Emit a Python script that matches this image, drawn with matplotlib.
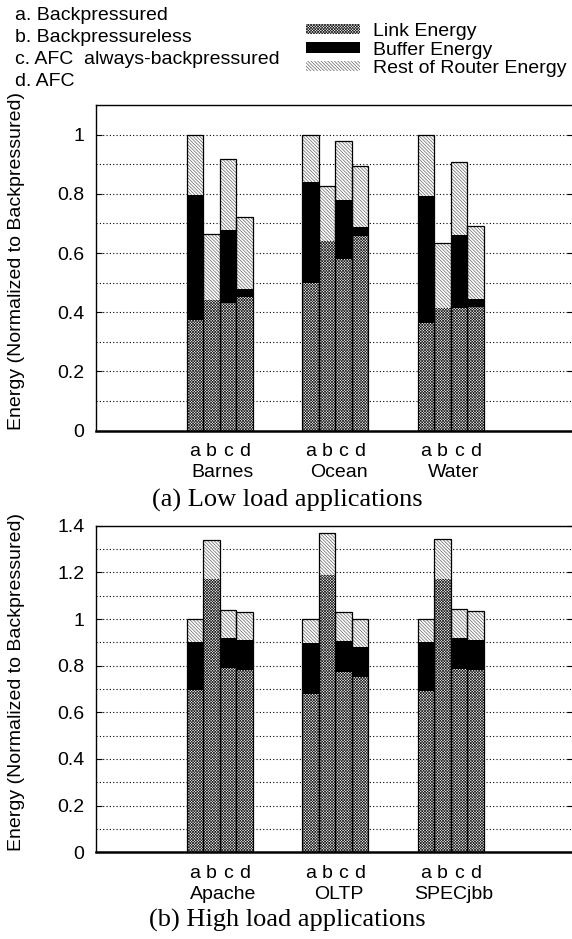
import matplotlib.pyplot as plt
from matplotlib.patches import Patch

plt.rcParams['font.family'] = ['Liberation Sans', 'DejaVu Sans']
plt.rcParams['hatch.linewidth'] = 0.5

# configurations a..d (same for every application)
configs = ['a', 'b', 'c', 'd']
config_names = ['a. Backpressured', 'b. Backpressureless',
                'c. AFC  always-backpressured', 'd. AFC']

# low load applications: link, buffer, total per config
low_apps = ['Barnes', 'Ocean', 'Water']
low_link = [[0.373, 0.440, 0.430, 0.452],
            [0.500, 0.641, 0.580, 0.657],
            [0.364, 0.413, 0.413, 0.418]]
low_buffer_top = [[0.796, 0.440, 0.677, 0.477],
                  [0.839, 0.641, 0.780, 0.688],
                  [0.794, 0.413, 0.662, 0.445]]
low_total = [[1.0, 0.663, 0.919, 0.723],
             [1.0, 0.828, 0.980, 0.894],
             [1.0, 0.635, 0.906, 0.690]]

# high load applications
high_apps = ['Apache', 'OLTP', 'SPECjbb']
high_link = [[0.694, 1.170, 0.789, 0.781],
             [0.679, 1.190, 0.773, 0.753],
             [0.691, 1.171, 0.786, 0.781]]
high_buffer_top = [[0.901, 1.170, 0.917, 0.910],
                   [0.897, 1.190, 0.907, 0.879],
                   [0.900, 1.171, 0.917, 0.911]]
high_total = [[1.0, 1.339, 1.039, 1.029],
              [1.0, 1.368, 1.031, 1.0],
              [1.0, 1.341, 1.043, 1.034]]

link_hatch = 'x' * 12
rest_hatch = '\\' * 10
link_col = '#222222'
rest_col = '#666666'


def draw_panel(ax, apps, link, buf_top, total, ymax, yticks):
    for g, app in enumerate(apps):
        for j in range(len(configs)):
            x = 6 + 7 * g + j
            l = link[g][j]
            b = buf_top[g][j] - l
            r = total[g][j] - buf_top[g][j]
            ax.bar(x, l, width=1, color='white', edgecolor=link_col,
                   hatch=link_hatch, linewidth=0, zorder=2)
            ax.bar(x, b, width=1, bottom=l, color='black', linewidth=0, zorder=2)
            ax.bar(x, r, width=1, bottom=l + b, color='white', edgecolor=rest_col,
                   hatch=rest_hatch, linewidth=0, zorder=2)
            ax.bar(x, total[g][j], width=1, fill=False, edgecolor='black',
                   linewidth=0.9, zorder=3)
        ax.annotate(app, xy=(6 + 7 * g + 1.7, 0), xycoords=ax.get_xaxis_transform(),
                    xytext=(0, -42), textcoords='offset pixels',
                    ha='center', va='center', fontsize=14, annotation_clip=False)
    xs = [6 + 7 * g + j for g in range(len(apps)) for j in range(len(configs))]
    ax.set_xticks(xs)
    ax.set_xticklabels(configs * len(apps), fontsize=14)
    ax.tick_params(axis='x', length=0, pad=9)
    ax.set_xlim(0, 28.9)
    ax.set_ylim(0, ymax)
    ax.set_yticks(yticks)
    ax.set_yticklabels(['%g' % v for v in yticks], fontsize=14)
    ax.set_yticks([k / 10 for k in range(int(round(ymax * 10)) + 1)], minor=True)
    ax.tick_params(axis='y', which='major', direction='in', length=4, pad=8,
                   right=True)
    ax.tick_params(axis='y', which='minor', length=0)
    ax.grid(axis='y', which='both', color='black', linestyle=(0, (1, 2)),
            linewidth=0.8, zorder=0)
    ax.set_axisbelow(True)
    for s in ax.spines.values():
        s.set_linewidth(1.0)
    ax.spines['bottom'].set_linewidth(1.8)
    ax.set_ylabel('Energy (Normalized to Backpressured)', fontsize=14)
    ax.yaxis.set_label_coords(-0.148, 0.52)


fig = plt.figure(figsize=(5.72, 9.39), dpi=100)
W, H = 572, 939
ax1 = fig.add_axes([95.7 / W, 1 - 430.7 / H, (573 - 95.7) / W, (430.7 - 105) / H])
ax2 = fig.add_axes([95.7 / W, 1 - 852.3 / H, (573 - 95.7) / W, (852.3 - 525.7) / H])

draw_panel(ax1, low_apps, low_link, low_buffer_top, low_total, 1.1,
           [0, 0.2, 0.4, 0.6, 0.8, 1])
draw_panel(ax2, high_apps, high_link, high_buffer_top, high_total, 1.4,
           [0, 0.2, 0.4, 0.6, 0.8, 1, 1.2, 1.4])

fig.text(287 / W, 1 - 500 / H, '(a) Low load applications', ha='center', va='center',
         fontsize=19, family='Liberation Serif')
fig.text(287 / W, 1 - 920 / H, '(b) High load applications', ha='center', va='center',
         fontsize=19, family='Liberation Serif')

for i, name in enumerate(config_names):
    fig.text(15 / W, 1 - (15 + 22.3 * i) / H, name, ha='left', va='center', fontsize=14)

handles = [Patch(facecolor='white', edgecolor=link_col, hatch=link_hatch, linewidth=0),
           Patch(facecolor='black', edgecolor='black', linewidth=0),
           Patch(facecolor='white', edgecolor=rest_col, hatch=rest_hatch, linewidth=0)]
fig.legend(handles, ['Link Energy', 'Buffer Energy', 'Rest of Router Energy'],
           loc='upper left', bbox_to_anchor=(306 / W, 1 - 23 / H), frameon=False,
           fontsize=14, handlelength=2.78, handleheight=0.45, handletextpad=0.67,
           labelspacing=0.08, borderpad=0, borderaxespad=0)

fig.savefig('out.png', dpi=100)
